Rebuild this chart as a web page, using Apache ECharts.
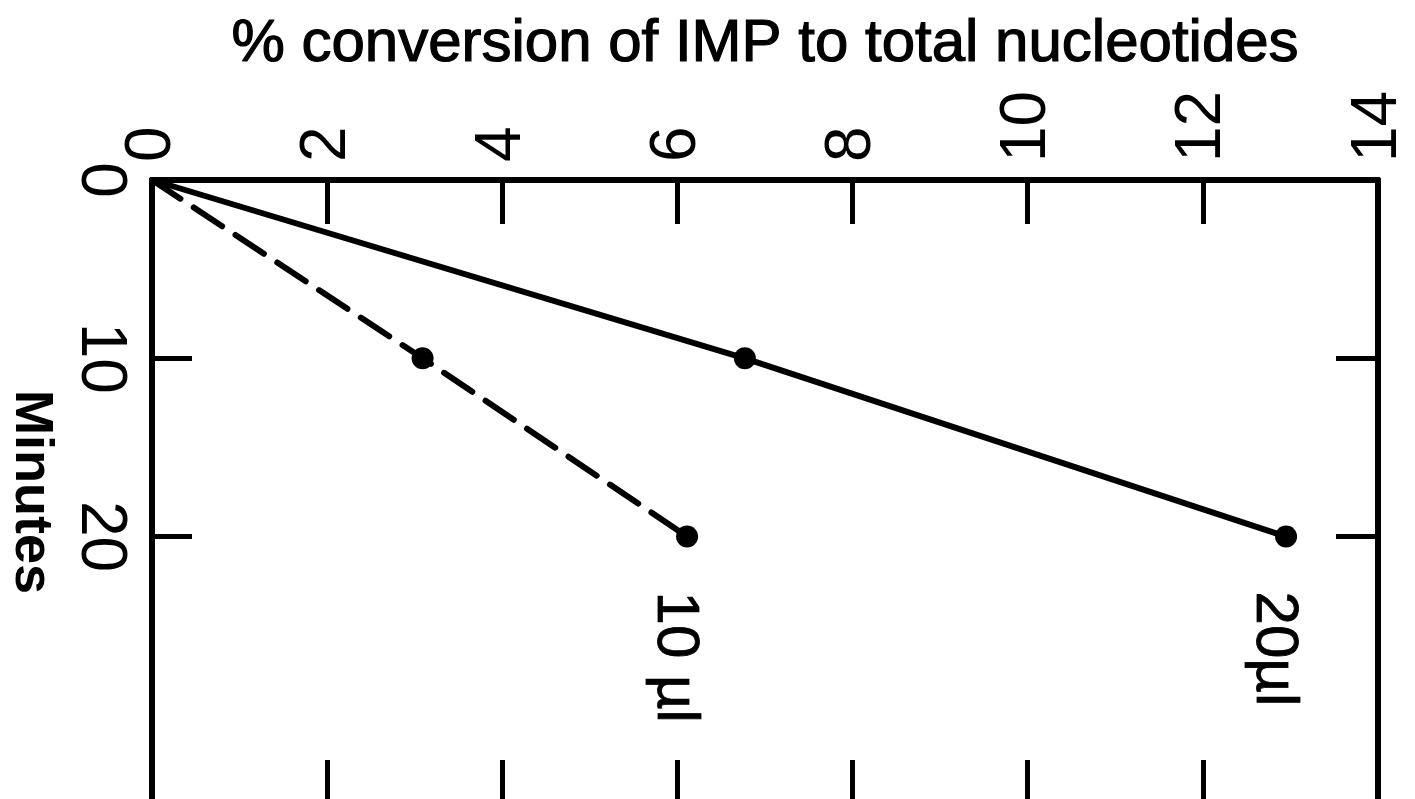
<!DOCTYPE html>
<html>
<head>
<meta charset="utf-8">
<script src="https://cdn.jsdelivr.net/npm/echarts@6/dist/echarts.min.js"></script>
<style>
  html, body { margin: 0; padding: 0; background: #fff; }
  #chart { width: 1415px; height: 799px; }
</style>
</head>
<body>
<div id="chart"></div>
<script>
// Sampling times (minutes) and % conversion of IMP for each enzyme volume
const minutes = [0, 10, 20];
const conv20ul = [0, 6.77, 12.95];
const conv10ul = [0, 3.09, 6.11];
const seriesLabels = ['20µl', '10 µl'];

// Axis ticks and labels
const conversionMin = 0;
const conversionMax = 14;
const conversionStep = 2;
const minuteMax = 35;
const minuteLabelValues = [0, 10, 20];
const minuteTickValues = [10, 20];

const FONT = 'Liberation Sans, Arial, sans-serif';
const INK = '#000';

// The origin is a line start only; measured points carry a dot,
// and the last point carries the series label.
function toPoints(values, label) {
  return values.map((v, i) => ({
    value: [v, minutes[i]],
    symbolSize: i === 0 ? 0 : 22,
    label: { show: i === values.length - 1, formatter: label }
  }));
}

const endLabel = {
  position: 'bottom',
  distance: 44,
  offset: [0, 13],
  rotate: -90,
  align: 'left',
  verticalAlign: 'middle',
  color: INK,
  fontFamily: FONT,
  fontSize: 60,
  textBorderColor: INK,
  textBorderWidth: 0.8
};

const axisLineStyle = { color: INK, width: 6 };
const tickStyle = { color: INK, width: 5 };

const chart = echarts.init(document.getElementById('chart'), null, { renderer: 'canvas' });

chart.setOption({
  animation: false,
  backgroundColor: '#fff',
  grid: {
    left: 152, right: 37, top: 180, height: 624,
    containLabel: false, outerBoundsMode: 'none'
  },
  xAxis: [
    {
      type: 'value',
      position: 'top',
      min: conversionMin,
      max: conversionMax,
      interval: conversionStep,
      name: '% conversion of IMP to total nucleotides',
      nameLocation: 'middle',
      nameGap: 106,
      nameTextStyle: {
        color: INK, fontFamily: FONT, fontSize: 60,
        textBorderColor: INK, textBorderWidth: 1.2
      },
      axisLine: { show: true, onZero: false, lineStyle: axisLineStyle },
      axisTick: { show: true, inside: true, length: 44, lineStyle: tickStyle },
      axisLabel: {
        show: true, rotate: -90, margin: 18,
        color: INK, fontFamily: FONT, fontSize: 64,
        showMinLabel: true, showMaxLabel: true
      },
      splitLine: { show: false }
    },
    {
      type: 'value',
      position: 'bottom',
      min: conversionMin,
      max: conversionMax,
      interval: conversionStep,
      axisLine: { show: true, onZero: false, lineStyle: axisLineStyle },
      axisTick: { show: true, inside: true, length: 44, lineStyle: tickStyle },
      axisLabel: { show: false },
      splitLine: { show: false }
    }
  ],
  yAxis: [
    {
      type: 'value',
      position: 'left',
      inverse: true,
      min: 0,
      max: minuteMax,
      name: 'Minutes',
      nameLocation: 'middle',
      nameRotate: -90,
      nameGap: 94,
      nameTextStyle: { color: INK, fontFamily: FONT, fontSize: 54, fontWeight: 'bold' },
      axisLine: { show: true, onZero: false, lineStyle: axisLineStyle },
      axisTick: { show: true, inside: true, length: 40, lineStyle: tickStyle, customValues: minuteTickValues },
      axisLabel: {
        show: true, rotate: -90, margin: 20,
        color: INK, fontFamily: FONT, fontSize: 64,
        customValues: minuteLabelValues
      },
      splitLine: { show: false }
    },
    {
      type: 'value',
      position: 'right',
      inverse: true,
      min: 0,
      max: minuteMax,
      axisLine: { show: true, onZero: false, lineStyle: axisLineStyle },
      axisTick: { show: true, inside: true, length: 42, lineStyle: tickStyle, customValues: minuteTickValues },
      axisLabel: { show: false },
      splitLine: { show: false }
    }
  ],
  series: [
    {
      name: seriesLabels[0],
      type: 'line',
      xAxisIndex: 0,
      yAxisIndex: 0,
      data: toPoints(conv20ul, seriesLabels[0]),
      symbol: 'circle',
      showSymbol: true,
      itemStyle: { color: INK },
      lineStyle: { color: INK, width: 6 },
      label: endLabel
    },
    {
      name: seriesLabels[1],
      type: 'line',
      xAxisIndex: 0,
      yAxisIndex: 0,
      data: toPoints(conv10ul, seriesLabels[1]),
      symbol: 'circle',
      showSymbol: true,
      itemStyle: { color: INK },
      lineStyle: { color: INK, width: 6, type: [34, 16], cap: 'round' },
      label: endLabel
    }
  ]
});
</script>
</body>
</html>
